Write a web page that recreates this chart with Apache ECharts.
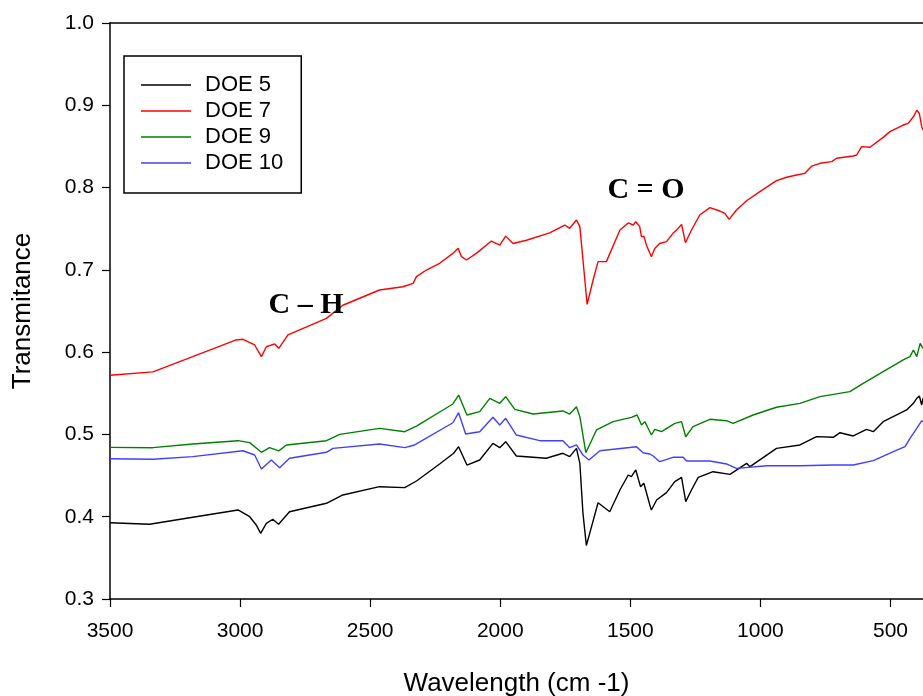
<!DOCTYPE html>
<html>
<head>
<meta charset="utf-8">
<script src="https://cdn.jsdelivr.net/npm/echarts@6/dist/echarts.min.js"></script>
<style>
html,body{margin:0;padding:0;background:#fff;}
#chart{width:923px;height:696px;}
</style>
</head>
<body>
<div id="chart"></div>
<script>
const seriesNames = ['DOE 5', 'DOE 7', 'DOE 9', 'DOE 10'];
const xTicks = [500, 1000, 1500, 2000, 2500, 3000, 3500];
const yTicks = [0.3, 0.4, 0.5, 0.6, 0.7, 0.8, 0.9, 1.0];

const wn5 = [3500,3348,3182,3008,2963,2938,2921,2899,2874,2852,2810,2668,2605,2464,2367,2322,2233,2179,2160,2128,2079,2028,2002,1979,1938,1823,1759,1733,1707,1694,1682,1669,1649,1624,1579,1540,1508,1496,1479,1461,1448,1425,1419,1399,1361,1329,1303,1287,1265,1239,1182,1117,1053,1040,938,848,784,720,694,643,592,566,528,438,412,399,389,380,375];
const doe5 = [0.3927,0.3908,0.3993,0.4082,0.400,0.390,0.3798,0.392,0.3969,0.3908,0.406,0.4163,0.4264,0.4365,0.4353,0.4434,0.4641,0.4771,0.4851,0.4628,0.4689,0.4892,0.4839,0.4912,0.4738,0.471,0.4771,0.473,0.4831,0.4649,0.4041,0.3650,0.3879,0.417,0.4061,0.4325,0.4507,0.4487,0.4568,0.4365,0.4406,0.4142,0.4082,0.4203,0.4292,0.4426,0.4479,0.4183,0.4325,0.4479,0.4547,0.4515,0.4649,0.4608,0.4831,0.4872,0.4973,0.4965,0.5021,0.4981,0.5062,0.5033,0.5155,0.5297,0.5378,0.5439,0.5467,0.5358,0.544];

const wn7 = [3500,3335,3182,3015,2989,2944,2918,2899,2867,2851,2816,2668,2605,2464,2374,2335,2322,2284,2233,2182,2162,2149,2130,2092,2034,2002,1979,1951,1899,1810,1752,1733,1707,1694,1682,1666,1643,1624,1592,1540,1508,1489,1479,1464,1457,1448,1438,1419,1406,1387,1361,1336,1322,1303,1288,1265,1233,1194,1156,1137,1120,1092,1053,1002,938,899,861,829,803,771,726,707,643,630,611,579,528,502,451,432,412,399,389,380,375];
const doe7 = [0.572,0.576,0.5945,0.6148,0.6156,0.6087,0.5945,0.6066,0.610,0.6047,0.621,0.641,0.657,0.6755,0.6795,0.6836,0.6917,0.6998,0.708,0.720,0.7262,0.716,0.712,0.720,0.735,0.730,0.741,0.732,0.736,0.745,0.7545,0.7505,0.7606,0.7525,0.712,0.658,0.6877,0.710,0.710,0.7484,0.757,0.7545,0.7585,0.7525,0.740,0.741,0.730,0.716,0.726,0.732,0.7343,0.7444,0.7484,0.7553,0.733,0.7484,0.7667,0.7756,0.7715,0.7687,0.7614,0.7727,0.784,0.795,0.8084,0.8125,0.8153,0.8173,0.826,0.8295,0.8315,0.8356,0.8384,0.8396,0.8497,0.849,0.861,0.868,0.876,0.878,0.886,0.894,0.890,0.874,0.870];

const wn9 = [3500,3335,3182,3008,2963,2918,2887,2851,2822,2668,2617,2464,2367,2322,2182,2160,2128,2079,2040,2002,1979,1944,1874,1759,1733,1707,1694,1671,1630,1566,1496,1474,1457,1444,1425,1419,1406,1380,1329,1303,1287,1259,1194,1130,1105,1028,938,848,771,656,605,528,451,425,412,399,386,375];
const doe9 = [0.4843,0.4839,0.4884,0.4924,0.490,0.4783,0.4839,0.480,0.4871,0.4924,0.5001,0.5074,0.5033,0.5102,0.537,0.5479,0.5236,0.5277,0.5439,0.5378,0.5459,0.5305,0.5248,0.5285,0.5248,0.5337,0.5216,0.4778,0.5054,0.5155,0.5208,0.5236,0.5115,0.5155,0.5033,0.4993,0.5062,0.5033,0.5135,0.5155,0.4972,0.5094,0.5184,0.5167,0.5135,0.5236,0.533,0.5378,0.5459,0.552,0.562,0.5763,0.5905,0.5945,0.6026,0.5945,0.6107,0.6047];

const wn10 = [3500,3335,3182,2989,2944,2918,2880,2848,2810,2668,2643,2464,2367,2329,2182,2160,2133,2079,2028,2002,1979,1938,1848,1759,1733,1707,1682,1659,1617,1476,1451,1425,1412,1387,1336,1297,1284,1194,1130,1092,976,848,720,643,566,489,444,425,399,380,375];
const doe10 = [0.4705,0.4698,0.473,0.4802,0.475,0.458,0.4689,0.4596,0.471,0.4783,0.4831,0.4884,0.4839,0.4872,0.5142,0.5264,0.5005,0.5033,0.5208,0.5115,0.5196,0.4993,0.4924,0.4924,0.4839,0.4872,0.475,0.4689,0.4802,0.4851,0.4778,0.4762,0.4738,0.4669,0.4722,0.4722,0.4677,0.4677,0.4641,0.4588,0.462,0.462,0.4628,0.4628,0.4681,0.479,0.4851,0.4953,0.5074,0.5167,0.515];

const annotations = [
  { text: 'C \u2013 H', x: 306, y: 305 },
  { text: 'C = O', x: 646, y: 190 }
];

function zip(xs, ys) { return xs.map((x, i) => [x, ys[i]]); }

const colors = ['#000000', '#ff0000', '#008000', '#4040ff'];
const wns = [wn5, wn7, wn9, wn10];
const vals = [doe5, doe7, doe9, doe10];

const chart = echarts.init(document.getElementById('chart'), null, { renderer: 'canvas' });
const font = 'Liberation Sans, Arial, sans-serif';

const option = {
  animation: false,
  backgroundColor: '#ffffff',
  grid: { left: 110, top: 23, right: 0, bottom: 97, containLabel: false, outerBoundsMode: 'none' },
  legend: {
    orient: 'vertical',
    left: 124,
    top: 56,
    padding: [18, 18, 19, 17],
    borderColor: '#000',
    borderWidth: 1.5,
    itemWidth: 50,
    itemHeight: 1.5,
    itemGap: 4,
    icon: 'rect',
    data: seriesNames,
    textStyle: { fontFamily: font, fontSize: 22, lineHeight: 22, color: '#000', padding: [0, 0, 0, 9] }
  },
  xAxis: [{
    type: 'value',
    min: 375,
    max: 3500,
    inverse: true,
    name: 'Wavelength (cm -1)',
    nameLocation: 'middle',
    nameGap: 72,
    nameTextStyle: { fontFamily: font, fontSize: 26, color: '#000' },
    axisLine: { show: true, onZero: false, lineStyle: { color: '#000', width: 1.5 } },
    axisTick: { show: true, inside: false, length: 8, customValues: xTicks, lineStyle: { color: '#000', width: 1.2 } },
    axisLabel: { customValues: xTicks, margin: 22, fontFamily: font, fontSize: 21, color: '#000', formatter: v => String(v) },
    splitLine: { show: false }
  }, {
    type: 'value',
    position: 'top',
    min: 375,
    max: 3500,
    inverse: true,
    axisLine: { show: true, onZero: false, lineStyle: { color: '#000', width: 1.5 } },
    axisTick: { show: false },
    axisLabel: { show: false },
    splitLine: { show: false }
  }],
  yAxis: {
    type: 'value',
    min: 0.3,
    max: 1.0,
    name: 'Transmitance',
    nameLocation: 'middle',
    nameGap: 74,
    nameTextStyle: { fontFamily: font, fontSize: 26, color: '#000' },
    axisLine: { show: true, onZero: false, lineStyle: { color: '#000', width: 1.5 } },
    axisTick: { show: true, length: 8, customValues: yTicks, lineStyle: { color: '#000', width: 1.2 } },
    axisLabel: { customValues: yTicks, margin: 16, fontFamily: font, fontSize: 21, color: '#000', formatter: v => v.toFixed(1) },
    splitLine: { show: false }
  },
  series: seriesNames.map((name, i) => ({
    name: name,
    type: 'line',
    xAxisIndex: 0,
    data: zip(wns[i], vals[i]),
    symbol: 'none',
    smooth: false,
    color: colors[i],
    lineStyle: { color: colors[i], width: 1.4 },
    z: 3
  })),
  graphic: annotations.map(a => ({
    type: 'text',
    x: a.x,
    y: a.y,
    z: 10,
    style: {
      text: a.text,
      font: 'bold 30px "Liberation Serif", "Times New Roman", serif',
      fill: '#000',
      textAlign: 'center',
      textVerticalAlign: 'middle'
    }
  }))
};
chart.setOption(option);
</script>
</body>
</html>
